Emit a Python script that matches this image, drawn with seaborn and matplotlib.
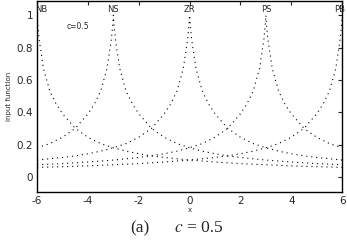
import numpy as np
import pandas as pd
import seaborn as sns
import matplotlib.pyplot as plt

# membership function: value vs distance from its centre
dist = [0, 0.03, 0.08, 0.25, 0.5, 0.75, 1, 1.5, 2, 2.5, 3, 3.5, 4, 4.5, 5,
        6, 7, 8, 9, 10, 11, 12]
memb = [1.0, 0.93, 0.85, 0.67, 0.53, 0.45, 0.39, 0.30, 0.245, 0.206, 0.18,
        0.159, 0.143, 0.13, 0.12, 0.104, 0.092, 0.082, 0.075, 0.068, 0.063, 0.059]
centres = [-6, -3, 0, 3, 6]
names = ['NB', 'NS', 'ZR', 'PS', 'PB']
x_ticks = [-6, -4, -2, 0, 2, 4, 6]
y_ticks = [0, 0.2, 0.4, 0.6, 0.8, 1]

rows = []
for name, c in zip(names, centres):
    for d, m in zip(dist, memb):
        for s in ([-1, 1] if d > 0 else [1]):
            xv = c + s * d
            if -6 <= xv <= 6:
                rows.append((name, xv, m))
df = pd.DataFrame(rows, columns=['set', 'x', 'mu'])

sns.set_style('white')
plt.rcParams['font.family'] = ['DejaVu Sans']

fig = plt.figure(figsize=(3.47, 2.42), dpi=100)
ax = fig.add_axes([0.107, 0.207, 0.879, 0.789])

for name in names:
    sub = df[df['set'] == name]
    sns.lineplot(data=sub, x='x', y='mu', ax=ax, color='black',
                 linestyle=(0, (1, 3.5)), linewidth=0.8, estimator=None, sort=True)

label_x = [-5.85, -3, 0, 3, 5.9]
for name, c in zip(names, label_x):
    ax.text(c, 1.035, name, ha='center', va='center', fontsize=6)
ax.text(-4.85, 0.93, 'c=0.5', ha='left', va='center', fontsize=5.5)

ax.set_xlim(-6, 6)
ax.set_ylim(-0.093, 1.088)
ax.set_xticks(x_ticks)
ax.set_yticks(y_ticks)
ax.set_xticklabels([str(v) for v in x_ticks])
ax.set_yticklabels(['0', '0.2', '0.4', '0.6', '0.8', '1'])
ax.tick_params(direction='in', length=3, labelsize=7.5, top=True, right=True,
               pad=3, width=0.8)
ax.set_xlabel('x', fontsize=5, labelpad=1)
ax.set_ylabel('input function', fontsize=5, labelpad=3)
for sp in ax.spines.values():
    sp.set_color('black')
    sp.set_linewidth(1.0)

fig.text(0.375, 0.058, '(a)', ha='left', va='center', fontsize=12.5,
         family='Liberation Serif')
fig.text(0.5, 0.058, r'$c$', ha='left', va='center', fontsize=12.5,
         family='Liberation Serif', math_fontfamily='stix')
fig.text(0.54, 0.058, '= 0.5', ha='left', va='center', fontsize=12.5,
         family='Liberation Serif')

fig.savefig('out.png', dpi=100)
